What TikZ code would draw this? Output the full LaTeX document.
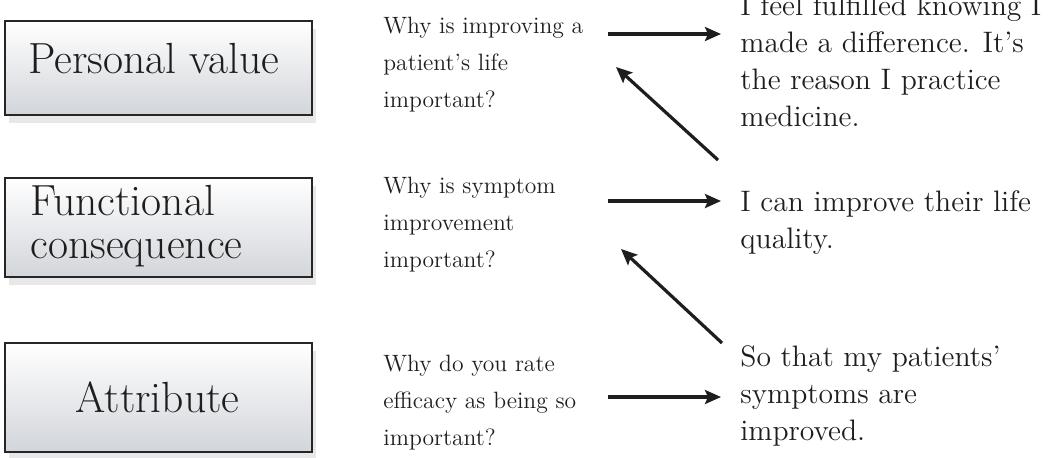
\documentclass[tikz,border=0pt]{standalone}
\usetikzlibrary{shadows,arrows.meta}
\definecolor{boxbottom}{RGB}{210,213,218}
\definecolor{ink}{RGB}{30,30,30}
\begin{document}
\begin{tikzpicture}[x=0.5pt,y=-0.5pt,
  box/.style={draw=black!85, line width=1.1pt, inner sep=0pt, shading=axis,
    top color=white, bottom color=boxbottom,
    drop shadow={opacity=0.18, shadow xshift=2pt, shadow yshift=-4pt}},
  boxlabel/.style={font=\fontsize{21.8}{21.5}\selectfont, inner sep=0pt, align=left, text=ink},
  question/.style={font=\fontsize{11.8}{18.5}\selectfont, inner sep=0pt, align=left, anchor=base west, text=ink},
  answer/.style={font=\fontsize{14.8}{18.5}\selectfont, inner sep=0pt, align=left, anchor=base west, text=ink},
  arr/.style={draw=ink, line width=1.6pt, -{Stealth[length=8pt,width=7pt,inset=1.5pt]}}]
\useasboundingbox (0,0) rectangle (1048,457);

% boxes
\node[box, minimum width=153.5pt, minimum height=47pt] (b1) at (158.5,68) {};
\node[box, minimum width=153.5pt, minimum height=49.5pt] (b2) at (158.5,227.5) {};
\node[box, minimum width=153.5pt, minimum height=54.5pt] (b3) at (158.5,397.5) {};

% labels (anchor base = baseline of the last line)
\node[boxlabel, anchor=base west] (l1) at (28,73) {Personal value};
\node[boxlabel, anchor=base west] (l2) at (30,258) {Functional\\consequence};
\node[boxlabel, anchor=base] (l3) at (157.5,412) {Attribute};

% questions
\node[question] (q1) at (383,107) {Why is improving a\\patient's life\\important?};
\node[question] (q2) at (383,267) {Why is symptom\\improvement\\important?};
\node[question] (q3) at (383,445) {Why do you rate\\efficacy as being so\\important?};

% answers
\node[answer] (a1) at (740,126) {I feel fulfilled knowing I\\made a difference. It's\\the reason I practice\\medicine.};
\node[answer] (a2) at (740,248) {I can improve their life\\quality.};
\node[answer] (a3) at (740,440) {So that my patients'\\symptoms are\\improved.};

% arrow end points
\coordinate (h1s) at (608,34);  \coordinate (h1e) at (721,34);
\coordinate (h2s) at (608,201); \coordinate (h2e) at (721,201);
\coordinate (h3s) at (608,397); \coordinate (h3e) at (721,397);
\coordinate (d1s) at (718,160); \coordinate (d1e) at (616,67);
\coordinate (d2s) at (722,343); \coordinate (d2e) at (621,249);

\draw[arr] (h1s) -- (h1e);
\draw[arr] (h2s) -- (h2e);
\draw[arr] (h3s) -- (h3e);
\draw[arr] (d1s) -- (d1e);
\draw[arr] (d2s) -- (d2e);
\end{tikzpicture}
\end{document}
